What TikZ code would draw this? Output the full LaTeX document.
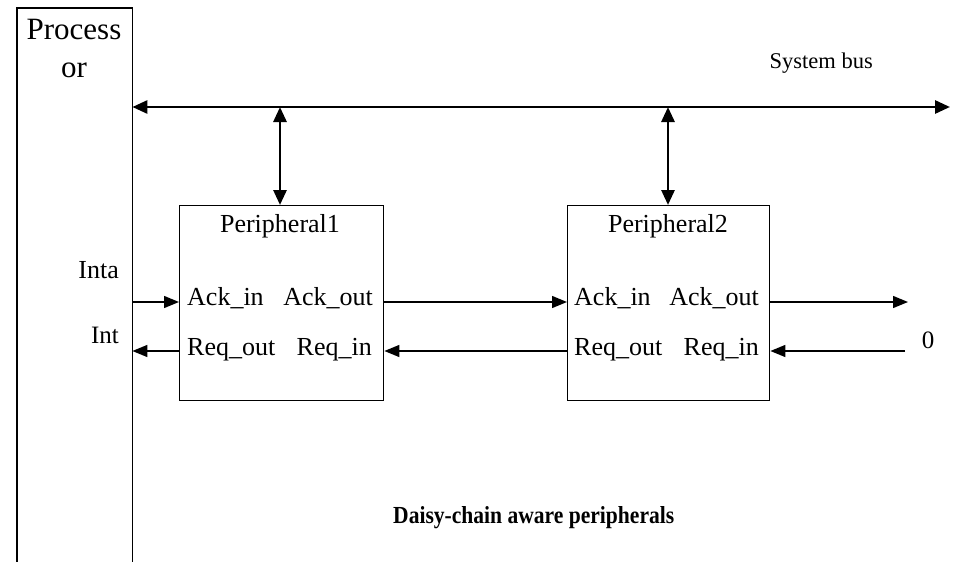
\documentclass[tikz,border=0pt]{standalone}
\usepackage{fontspec}
\setmainfont{Liberation Serif}
\usetikzlibrary{arrows.meta,calc}

\begin{document}
\begin{tikzpicture}[x=1pt,y=-1pt,
  box/.style={draw,line width=1.4pt,minimum width=204pt,minimum height=195pt,anchor=north west,inner sep=0pt},
  sig/.style={line width=1.4pt,-{Triangle[length=15pt,width=12pt]}},
  bus/.style={line width=2.8pt,{Triangle[length=15pt,width=13pt]}-{Triangle[length=15pt,width=13pt]}},
  lbl/.style={inner sep=0pt,font=\fontsize{26}{30}\selectfont},
  sml/.style={inner sep=0pt,font=\fontsize{25}{29}\selectfont}]

\useasboundingbox (0,0) rectangle (954,562);

% processor column, open at the bottom
\node[minimum width=115pt,minimum height=558pt,anchor=north west,inner sep=0pt] (proc) at (17,8) {};
\draw[line width=1.4pt] (proc.south west) -- (proc.north west) -- (proc.north east) -- (proc.south east);
\node[inner sep=0pt,anchor=base,font=\fontsize{31}{35}\selectfont] (ptxt1) at (74,39) {Process};
\node[inner sep=0pt,anchor=base,font=\fontsize{31}{35}\selectfont] (ptxt2) at (74,77) {or};

% system bus
\coordinate (busend) at (950,107);
\draw[bus] (proc.east |- busend) -- (busend);
\node[inner sep=0pt,anchor=base east,font=\fontsize{22.5}{26}\selectfont] (buslbl) at (873,68) {System bus};

% peripherals
\node[box] (p1) at (179,205) {};
\node[box,minimum width=202pt] (p2) at (567,205) {};

\coordinate (c1) at (280,107);
\coordinate (c2) at (668,107);
\draw[bus] (c1) -- (c1 |- p1.north);
\draw[bus] (c2) -- (c2 |- p2.north);

\node[lbl,anchor=base] (p1name) at (280,232) {Peripheral1};
\node[lbl,anchor=base] (p2name) at (668,232) {Peripheral2};

\node[lbl,anchor=base west] (p1ai) at (187,305) {Ack\_in};
\node[lbl,anchor=base east] (p1ao) at (373,305) {Ack\_out};
\node[lbl,anchor=base west] (p1ro) at (187,355) {Req\_out};
\node[lbl,anchor=base east] (p1ri) at (372,355) {Req\_in};

\node[lbl,anchor=base west] (p2ai) at (574,305) {Ack\_in};
\node[lbl,anchor=base east] (p2ao) at (759,305) {Ack\_out};
\node[lbl,anchor=base west] (p2ro) at (574,355) {Req\_out};
\node[lbl,anchor=base east] (p2ri) at (759,355) {Req\_in};

% handshake rows
\coordinate (ackrow) at (0,302);
\coordinate (reqrow) at (0,351);
\coordinate (ackend) at (908,302);
\coordinate (reqsrc) at (905,351);

\draw[sig] (proc.east |- ackrow) -- (p1.west |- ackrow);
\draw[sig] (p1.west |- reqrow) -- (proc.east |- reqrow);
\draw[sig] (p1.east |- ackrow) -- (p2.west |- ackrow);
\draw[sig] (p2.west |- reqrow) -- (p1.east |- reqrow);
\draw[sig] (p2.east |- ackrow) -- (ackend);
\draw[sig] (reqsrc) -- (p2.east |- reqrow);

\node[sml,anchor=base east,font=\fontsize{26}{30}\selectfont] (inta) at (119,278) {Inta};
\node[sml,anchor=base east] (int) at (119,343) {Int};
\node[sml,anchor=base] (zero) at (928,348) {0};

\node[inner sep=0pt,anchor=base west,font=\fontsize{24.5}{28}\selectfont\bfseries] (cap) at (393,523) {\scalebox{0.88}[1]{Daisy-chain aware peripherals}};
\end{tikzpicture}
\end{document}
